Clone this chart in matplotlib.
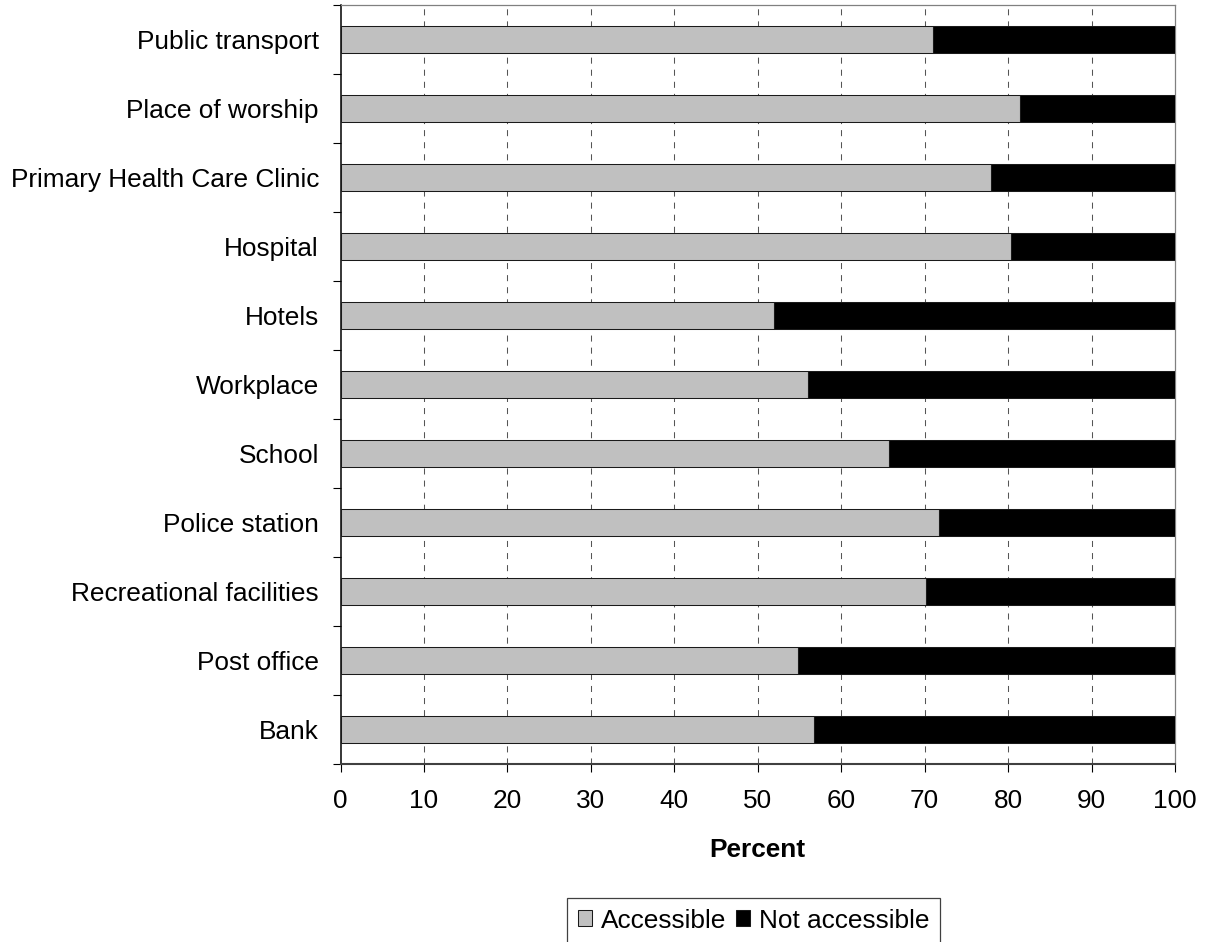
import matplotlib
matplotlib.use("Agg")
import matplotlib.pyplot as plt
from matplotlib.ticker import FixedLocator, NullFormatter

plt.rcParams['font.family'] = ['Liberation Sans', 'DejaVu Sans']

categories = [
    "Public transport", "Place of worship", "Primary Health Care Clinic",
    "Hospital", "Hotels", "Workplace", "School", "Police station",
    "Recreational facilities", "Post office", "Bank",
]
accessible = [71.0, 81.4, 78.0, 80.4, 51.9, 56.0, 65.7, 71.7, 70.2, 54.8, 56.7]
not_accessible = [29.0, 18.6, 22.0, 19.6, 48.1, 44.0, 34.3, 28.3, 29.8, 45.2, 43.3]
x_ticks = [0, 10, 20, 30, 40, 50, 60, 70, 80, 90, 100]
series_names = ["Accessible", "Not accessible"]

FS = 18.9
W, H = 1215, 942

fig = plt.figure(figsize=(W / 100, H / 100), dpi=100)
ax = fig.add_axes([340.5 / W, 1 - 764 / H, (1175 - 340.5) / W, (764 - 5) / H])

pos = list(range(len(categories)))
b1 = ax.barh(pos, accessible, height=0.4, color="#c0c0c0",
             edgecolor="#1a1a1a", linewidth=0.75, zorder=3,
             label=series_names[0])
b2 = ax.barh(pos, not_accessible, left=accessible, height=0.4,
             color="#000000", edgecolor="#1a1a1a", linewidth=0.75,
             zorder=3, label=series_names[1])

ax.set_xlim(0, 100)
ax.set_ylim(len(categories) - 0.5, -0.5)

# x axis with dashed vertical gridlines
ax.set_xticks(x_ticks)
ax.set_xticklabels([str(t) for t in x_ticks])
ax.tick_params(axis="x", direction="out", length=6, width=0.8,
               color="#000000", labelsize=FS, pad=12)
for t in x_ticks[1:-1]:
    ax.axvline(t, color="#555555", linewidth=0.75,
               linestyle=(0, (5.8, 5.8)), zorder=1)

# y axis: labels at centers, ticks at category boundaries
ax.set_yticks(pos)
ax.set_yticklabels(categories)
ax.tick_params(axis="y", which="major", length=0, labelsize=FS, pad=15.5)
ax.yaxis.set_minor_locator(FixedLocator([p - 0.5 for p in pos] + [len(pos) - 0.5]))
ax.yaxis.set_minor_formatter(NullFormatter())
ax.tick_params(axis="y", which="minor", direction="out", length=6,
               width=0.8, color="#000000")

ax.spines["left"].set_color("#000000")
ax.spines["left"].set_linewidth(1.1)
ax.spines["bottom"].set_color("#404040")
ax.spines["bottom"].set_linewidth(1.5)
for s in ("top", "right"):
    ax.spines[s].set_color("#808080")
    ax.spines[s].set_linewidth(0.9)

ax.set_xlabel("Percent", fontsize=FS, fontweight="bold", va="center")
ax.xaxis.set_label_coords(0.5, (764 - 850) / (764 - 5))

fig.legend(handles=[b1, b2], labels=series_names, loc="upper left",
           bbox_to_anchor=(567 / W, 1 - 898 / H), ncol=2, fontsize=FS,
           frameon=True, fancybox=False, framealpha=1, edgecolor="#404040",
           borderaxespad=0, borderpad=0.4, handlelength=0.55,
           handleheight=0.55, handletextpad=0.35, columnspacing=0.35)
fig.legends[0].get_frame().set_linewidth(0.9)

fig.savefig("out.png", dpi=100)
